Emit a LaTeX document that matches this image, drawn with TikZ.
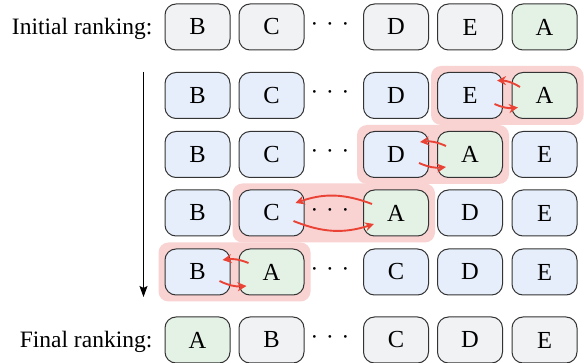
\documentclass[tikz,border=0pt]{standalone}
\usepackage{fontspec}
\setmainfont{Liberation Serif}
\usetikzlibrary{arrows.meta,fit,backgrounds,calc}
\definecolor{boxgray}{HTML}{F1F2F4}
\definecolor{boxblue}{HTML}{E6EEFB}
\definecolor{boxgreen}{HTML}{E4F2E6}
\definecolor{boxline}{HTML}{333333}
\definecolor{hl}{HTML}{F9D2D2}
\definecolor{swapred}{HTML}{EA4335}
\tikzset{
  item/.style={draw=boxline, line width=1pt, rounded corners=11pt,
    minimum width=65pt, minimum height=46pt, inner sep=0pt,
    font=\fontsize{24.5}{28}\selectfont},
  gitem/.style={item, fill=boxgray},
  bitem/.style={item, fill=boxblue},
  aitem/.style={item, fill=boxgreen},
  dotsnode/.style={inner sep=0pt, font=\fontsize{23}{27}\selectfont},
  lbl/.style={inner sep=0pt, anchor=base east, font=\fontsize{23.5}{27}\selectfont},
  hlbox/.style={fill=hl, rounded corners=10pt, inner sep=6pt},
  swap/.style={draw=swapred, line width=1.9pt, -{Stealth[length=9pt,width=9pt]}},
  flow/.style={draw=black, line width=1.2pt, -{Stealth[length=11pt,width=8pt,inset=2pt]}}
}
\newcommand{\mydots}{·\hspace{0.34em}·\hspace{0.34em}·}
\begin{document}
\begin{tikzpicture}[x=1pt,y=-1pt]
\useasboundingbox (0,0) rectangle (584,363);
% row 1
\node[lbl] (init) at (152.5,34.5) {Initial ranking:};
\node[gitem] (B1) at (197.5,27) {B};
\node[gitem] (C1) at (271.5,27) {C};
\node[dotsnode] (d1) at (330,27) {\mydots};
\node[gitem] (D1) at (396,27) {D};
\node[gitem] (E1) at (470,27) {E};
\node[aitem] (A1) at (544.5,27) {A};
% row 2
\node[bitem] (B2) at (197.5,95.5) {B};
\node[bitem] (C2) at (271.5,95.5) {C};
\node[dotsnode] (d2) at (330,95.5) {\mydots};
\node[bitem] (D2) at (396,95.5) {D};
\node[bitem] (E2) at (470,95.5) {E};
\node[aitem] (A2) at (544.5,95.5) {A};
% row 3
\node[bitem] (B3) at (197.5,154.5) {B};
\node[bitem] (C3) at (271.5,154.5) {C};
\node[dotsnode] (d3) at (330,154.5) {\mydots};
\node[bitem] (D3) at (396,154.5) {D};
\node[aitem] (A3) at (470,154.5) {A};
\node[bitem] (E3) at (544.5,154.5) {E};
% row 4
\node[bitem] (B4) at (197.5,213) {B};
\node[bitem] (C4) at (271.5,213) {C};
\node[dotsnode] (d4) at (330,213) {\mydots};
\node[aitem] (A4) at (396,213) {A};
\node[bitem] (D4) at (470,213) {D};
\node[bitem] (E4) at (544.5,213) {E};
% row 5
\node[bitem] (B5) at (197.5,272) {B};
\node[aitem] (A5) at (271.5,272) {A};
\node[dotsnode] (d5) at (330,272) {\mydots};
\node[bitem] (C5) at (396,272) {C};
\node[bitem] (D5) at (470,272) {D};
\node[bitem] (E5) at (544.5,272) {E};
% final row
\node[lbl] (fin) at (152.5,347.5) {Final ranking:};
\node[aitem] (A6) at (197.5,340) {A};
\node[gitem] (B6) at (271.5,340) {B};
\node[dotsnode] (d6) at (330,340) {\mydots};
\node[gitem] (C6) at (396,340) {C};
\node[gitem] (D6) at (470,340) {D};
\node[gitem] (E6) at (544.5,340) {E};
% highlights
\begin{scope}[on background layer]
\node[hlbox, fit=(E2)(A2)] (h2) {};
\node[hlbox, fit=(D3)(A3)] (h3) {};
\node[hlbox, fit=(C4)(A4)] (h4) {};
\node[hlbox, fit=(B5)(A5)] (h5) {};
\end{scope}
% swap arrows
\draw[swap] ($(A2.west)+(8.5,-8.5)$) to[bend right=15] ($(E2.east)+(-6,-15)$);
\draw[swap] ($(E2.east)+(-8.5,8.5)$) to[bend right=15] ($(A2.west)+(6.5,12)$);
\draw[swap] ($(A3.west)+(9,-8.5)$) to[bend right=15] ($(D3.east)+(-9,-12.5)$);
\draw[swap] ($(D3.east)+(-10,8.5)$) to[bend right=15] ($(A3.west)+(9,12.5)$);
\draw[swap] ($(A4.west)+(9,-9)$) to[bend right=20] ($(C4.east)+(-9,-10)$);
\draw[swap] ($(C4.east)+(-11,8)$) to[bend right=20] ($(A4.west)+(11,11)$);
\draw[swap] ($(A5.west)+(10,-9)$) to[bend right=15] ($(B5.east)+(-8,-12)$);
\draw[swap] ($(B5.east)+(-11,9)$) to[bend right=15] ($(A5.west)+(8,14)$);
% flow arrow
\coordinate (ftop) at (143.5,72);
\coordinate (fbot) at (143.5,297);
\draw[flow] (ftop) -- (fbot);
\end{tikzpicture}
\end{document}
